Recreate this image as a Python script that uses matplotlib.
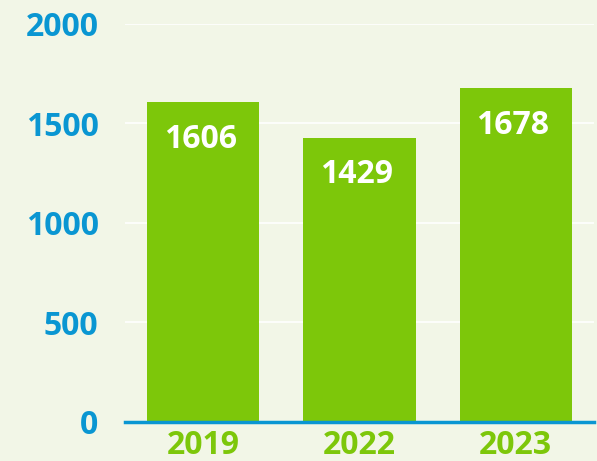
import matplotlib
matplotlib.use("Agg")
import matplotlib.pyplot as plt

years = ["2019", "2022", "2023"]
values = [1606, 1429, 1678]
yticks = [0, 500, 1000, 1500, 2000]

bg = "#f2f6e7"
green = "#7dc70a"
blue = "#0a96d2"

plt.rcParams['font.family'] = ['Open Sans', 'DejaVu Sans']
fig = plt.figure(figsize=(5.97, 4.61), dpi=100, facecolor=bg)
ax = fig.add_axes([0.2094, 0.0846, 0.7856, 0.8634])
ax.set_facecolor(bg)

x = range(len(years))
bars = ax.bar(x, values, width=0.72, color=green, zorder=3)
for xi, v in zip(x, values):
    ax.annotate(str(v), (xi, v), xytext=(-3, -37), textcoords="offset pixels",
                ha="center", va="center", color="white", fontsize=23,
                fontweight="bold", zorder=4)

ax.set_xlim(-0.5, 2.5)
ax.set_ylim(0, 2000)
ax.set_yticks(yticks)
ax.set_yticklabels([str(t) for t in yticks])
ax.set_xticks(list(x))
ax.set_xticklabels(years)
ax.grid(axis="y", color="white", linewidth=1.2, zorder=0)
ax.tick_params(axis="y", length=0, pad=19, labelsize=23, labelcolor=blue)
ax.tick_params(axis="x", length=0, pad=5, labelsize=23, labelcolor=green)
for lab in ax.get_yticklabels() + ax.get_xticklabels():
    lab.set_fontweight("bold")
for s in ["top", "right", "left"]:
    ax.spines[s].set_visible(False)
ax.spines["bottom"].set_color(blue)
ax.spines["bottom"].set_linewidth(2.5)
ax.spines["bottom"].set_zorder(5)

fig.savefig("out.png", dpi=100, facecolor=bg)
